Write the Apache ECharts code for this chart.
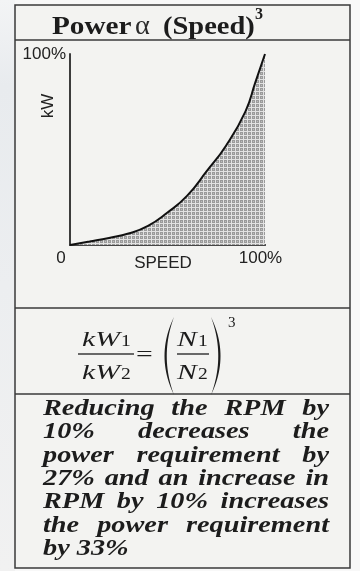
<!DOCTYPE html>
<html>
<head>
<meta charset="utf-8">
<script src="https://cdn.jsdelivr.net/npm/echarts@6/dist/echarts.min.js"></script>
<style>
  html, body { margin: 0; padding: 0; background: #f7f7f7; }
  #chart { width: 360px; height: 571px; }
</style>
</head>
<body>
<div id="chart"></div>
<script>
// Fan affinity curve: shaft speed (% of rated) against power drawn (% of rated)
const speedPct = [0, 10, 20, 30, 40, 50, 60, 70, 80, 90, 95, 100];
const powerPct = [0, 1.8, 3.7, 6, 10, 17, 25.7, 38.5, 52, 70, 85, 100];

// Axis tick labels
const xTickLabels = { 0: '0', 100: '100%' };
const yTickLabels = { 100: '100%' };

// Explanatory note under the formula, one entry per printed line
const noteLines = [
  'Reducing the RPM by',
  '10% decreases the',
  'power requirement by',
  '27% and an increase in',
  'RPM by 10% increases',
  'the power requirement',
  'by 33%'
];

const INK = '#1c1c1c';
const RULE = '#3a3a3a';
const SERIF = '"Liberation Serif", "Times New Roman", serif';
const SANS = '"Liberation Sans", Arial, sans-serif';

// Cross-hatched fill used under the curve
function hatchTile() {
  const c = document.createElement('canvas');
  c.width = 4; c.height = 4;
  const g = c.getContext('2d');
  g.fillStyle = '#9a9a9a'; g.fillRect(0, 0, 4, 4);
  g.fillStyle = '#e2e2e2';
  g.fillRect(0, 3, 4, 1);
  g.fillRect(3, 0, 1, 4);
  g.fillStyle = '#bdbdbd'; g.fillRect(1, 1, 1, 1);
  return c;
}

const measureCtx = document.createElement('canvas').getContext('2d');
function textWidth(str, font) {
  measureCtx.font = font;
  return measureCtx.measureText(str).width;
}

// Canvas "middle" baseline sits about 0.31em above the alphabetic one
function midY(baseline, size) { return baseline - 0.31 * size; }

function txt(str, x, baseline, size, opts) {
  opts = opts || {};
  return {
    type: 'text', x: x, y: midY(baseline, size), z: 20,
    scaleX: opts.sx || 1, scaleY: opts.sy || 1,
    style: {
      text: str,
      font: (opts.style || 'normal') + ' ' + (opts.weight || 'normal') + ' ' + size + 'px ' + (opts.family || SERIF),
      fill: opts.fill || INK,
      align: opts.align || 'left',
      verticalAlign: 'middle'
    }
  };
}

function hline(x1, x2, y, w) {
  return { type: 'line', z: 15, shape: { x1: x1, y1: y, x2: x2, y2: y },
           style: { stroke: RULE, lineWidth: w || 1.5 } };
}

// Tall crescent-shaped bracket: outer and inner quadratic arcs between the same ends
function bracket(xEnd, yTop, yBot, xOuter, xInner) {
  const pts = [];
  const q = function (t, c) {
    const u = 1 - t;
    return [u * u * xEnd + 2 * u * t * c + t * t * xEnd,
            u * u * yTop + 2 * u * t * ((yTop + yBot) / 2) + t * t * yBot];
  };
  for (let i = 0; i <= 24; i++) pts.push(q(i / 24, xOuter));
  for (let i = 24; i >= 0; i--) pts.push(q(i / 24, xInner));
  return { type: 'polygon', z: 20, shape: { points: pts }, style: { fill: INK } };
}

const graphics = [];

// page backdrop and framed panel
graphics.push({
  type: 'rect', z: -10, shape: { x: 0, y: 0, width: 15, height: 571 },
  style: { fill: new echarts.graphic.LinearGradient(0, 0, 0, 1, [
    { offset: 0, color: '#f3f4f5' }, { offset: 0.15, color: '#e8ebee' },
    { offset: 0.5, color: '#eceef0' }, { offset: 1, color: '#f1f1f1' }]) }
});
graphics.push({ type: 'rect', z: -9, shape: { x: 15, y: 5, width: 335, height: 563 },
                style: { fill: '#f3f3f1' } });
graphics.push({ type: 'rect', z: 15, shape: { x: 15, y: 5, width: 335, height: 563 },
                style: { fill: null, stroke: RULE, lineWidth: 1.5 } });
graphics.push(hline(15, 350, 40));
graphics.push(hline(15, 350, 308));
graphics.push(hline(15, 350, 394));

// heading
graphics.push(txt('Power', 52, 35, 25, { weight: 'bold', sx: 1.17 }));
graphics.push(txt('\u03b1', 135, 35, 27, { sx: 1.05, fill: '#2a2a2a' }));
graphics.push(txt('(Speed)', 163, 35, 25, { weight: 'bold', sx: 1.14 }));
graphics.push(txt('3', 255, 20, 16, { weight: 'bold' }));

// vertical axis caption
graphics.push({
  type: 'text', x: 48, y: 106, rotation: Math.PI / 2, z: 20,
  style: { text: 'kW', font: '17px ' + SANS, fill: '#222', align: 'center', verticalAlign: 'middle' }
});

// kW1 / kW2 = (N1 / N2)^3
const FX = 1.35;
graphics.push(txt('kW', 82, 347, 22, { style: 'italic', sx: FX }));
graphics.push(txt('1', 121, 347, 17, { sx: 1.15 }));
graphics.push(txt('kW', 82, 380, 22, { style: 'italic', sx: FX }));
graphics.push(txt('2', 121, 380, 17, { sx: 1.15 }));
graphics.push(hline(78, 134, 354, 1.5));
graphics.push(txt('=', 136, 362, 22, { sx: 1.35 }));
graphics.push(bracket(174, 317, 395, 155, 159.5));
graphics.push(bracket(211, 317, 395, 230, 225.5));
graphics.push(txt('N', 177, 347, 22, { style: 'italic', sx: FX }));
graphics.push(txt('1', 198, 347, 17, { sx: 1.15 }));
graphics.push(txt('N', 177, 380, 22, { style: 'italic', sx: FX }));
graphics.push(txt('2', 198, 380, 17, { sx: 1.15 }));
graphics.push(hline(177, 209, 354, 1.5));
graphics.push(txt('3', 228, 328, 15, {}));

// justified note text
(function () {
  const size = 23, sx = 1.23, left = 43, right = 329;
  const font = 'italic bold ' + size + 'px ' + SERIF;
  noteLines.forEach(function (line, i) {
    const words = line.split(' ');
    const widths = words.map(function (w) { return textWidth(w, font) * sx; });
    const total = widths.reduce(function (a, b) { return a + b; }, 0);
    const last = i === noteLines.length - 1;
    const gap = last || words.length < 2 ? textWidth(' ', font) * sx
                                         : (right - left - total) / (words.length - 1);
    const base = 416 + i * 23.4;
    let x = left;
    words.forEach(function (w, k) {
      graphics.push(txt(w, x, base, size, { style: 'italic', weight: 'bold', sx: sx }));
      x += widths[k] + gap;
    });
  });
})();

const chart = echarts.init(document.getElementById('chart'), null, { renderer: 'canvas' });

const labelRich = {
  z: { fontSize: 17, fontFamily: SANS, color: '#222', padding: [0, 18, 0, 0] },
  h: { fontSize: 17, fontFamily: SANS, color: '#222', padding: [0, 9, 0, 0] }
};

chart.setOption({
  backgroundColor: '#f8f8f8',
  animation: false,
  grid: { left: 70, top: 54, width: 195, height: 191, containLabel: false },
  xAxis: [{
    type: 'value', min: 0, max: 100, interval: 100,
    name: 'SPEED', nameLocation: 'middle', nameGap: 10, nameMoveOverlap: false,
    nameTextStyle: { fontSize: 17, fontFamily: SANS, color: '#222', padding: [0, 9, 0, 0] },
    axisLine: { show: true, onZero: false, lineStyle: { color: '#1a1a1a', width: 2 } },
    axisTick: { show: false }, splitLine: { show: false },
    axisLabel: {
      margin: 5,
      formatter: function (v) {
        if (v === 0) return '{z|' + xTickLabels[0] + '}';
        if (v === 100) return '{h|' + xTickLabels[100] + '}';
        return '';
      },
      rich: labelRich
    }
  }, {
    type: 'value', position: 'top', min: 0, max: 100,
    axisLine: { show: true, lineStyle: { color: '#555', width: 1.5 } },
    axisTick: { show: false }, axisLabel: { show: false }, splitLine: { show: false }
  }],
  yAxis: {
    type: 'value', min: 0, max: 100, interval: 100,
    axisLine: { show: true, onZero: false, lineStyle: { color: '#3c3c3c', width: 2 } },
    axisTick: { show: false }, splitLine: { show: false },
    axisLabel: {
      margin: 4, fontSize: 17, fontFamily: SANS, color: '#222',
      formatter: function (v) { return yTickLabels[v] || ''; }
    }
  },
  series: [{
    type: 'line',
    data: speedPct.map(function (s, i) { return [s, powerPct[i]]; }),
    smooth: true,
    showSymbol: false,
    lineStyle: { color: '#111', width: 2 },
    areaStyle: { color: { image: hatchTile(), repeat: 'repeat' }, opacity: 1 },
    z: 3
  }],
  graphic: { elements: graphics }
});
</script>
</body>
</html>
